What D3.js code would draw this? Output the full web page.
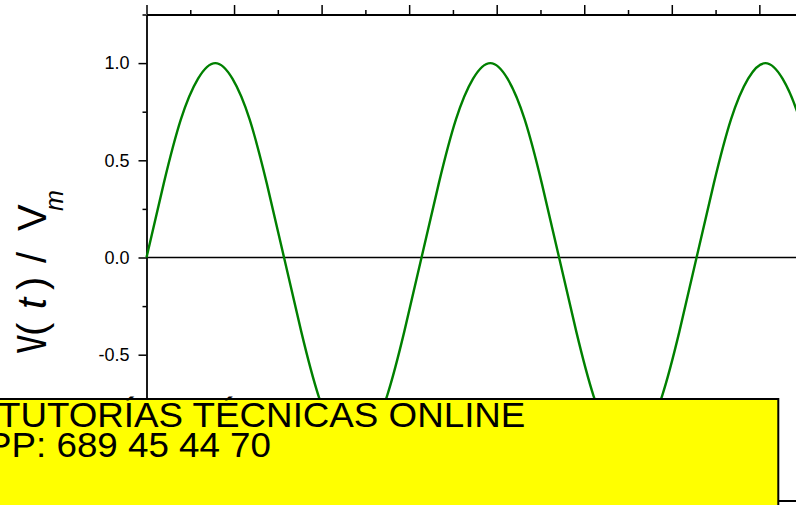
<!DOCTYPE html>
<html lang="es">
<head>
  <meta charset="UTF-8" />
  <title>v(t) / Vm</title>
  <script src="https://cdn.jsdelivr.net/npm/d3@7/dist/d3.min.js"></script>
  <style>
    body {
      margin: 0;
      background: #fff;
    }

    text {
      font-family: "Liberation Sans", Arial, sans-serif;
      fill: #000;
    }
  </style>
</head>

<body>
  <div class="chart"></div>
  <script>
    // angle (rad) and v(t)/Vm
    var tVals = [0, 0.393, 0.785, 1.178, 1.571, 1.963, 2.356, 2.749, 3.142, 3.534,
      3.927, 4.320, 4.712, 5.105, 5.498, 5.890, 6.283, 6.676, 7.069, 7.461,
      7.854, 8.247, 8.639, 9.032, 9.425, 9.817, 10.210, 10.603, 10.996, 11.388,
      11.781, 12.174, 12.566, 12.959, 13.352, 13.744, 14.137, 14.530, 14.923, 15.315,
      15.708
    ];
    var vVals = [0, 0.38, 0.71, 0.92, 1.0, 0.92, 0.71, 0.38, 0, -0.38,
      -0.71, -0.92, -1.0, -0.92, -0.71, -0.38, 0, 0.38, 0.71, 0.92,
      1.0, 0.92, 0.71, 0.38, 0, -0.38, -0.71, -0.92, -1.0, -0.92,
      -0.71, -0.38, 0, 0.38, 0.71, 0.92, 1.0, 0.92, 0.71, 0.38,
      0
    ];

    // -1.0 sits under the note box, so only these labels show
    var yMajor = [-0.5, 0.0, 0.5, 1.0];
    var yMinor = [-1.25, -0.75, -0.25, 0.25, 0.75, 1.25];
    var xMajor = [0, 2, 4, 6, 8, 10, 12, 14];
    var xMinor = [1, 3, 5, 7, 9, 11, 13, 15];

    var noteLines = ["TUTORÍAS TÉCNICAS ONLINE", "WHATSAPP: 689 45 44 70"];

    var w = 796,
      h = 505;

    var svg = d3.select(".chart").append("svg")
      .attr("width", w)
      .attr("height", h);

    var x = d3.scaleLinear()
      .domain([0, 15.5])
      .range([146.5, 146.5 + 15.5 * 43.775]);

    var y = d3.scaleLinear()
      .domain([-1.25, 1.25])
      .range([500.5, 14.5]);

    // zero line
    svg.append("line")
      .attr("x1", x(0))
      .attr("x2", x(15.5))
      .attr("y1", y(0))
      .attr("y2", y(0))
      .attr("stroke", "#000")
      .attr("stroke-width", 1.3);

    // left axis
    var yAxis = svg.append("g")
      .attr("transform", "translate(" + x(0) + ",0)")
      .call(d3.axisLeft(y)
        .tickValues(yMajor)
        .tickSize(8)
        .tickSizeOuter(0)
        .tickPadding(9)
        .tickFormat(function(d) {
          return d.toFixed(1);
        }));
    yAxis.selectAll("text")
      .attr("font-size", "18px")
      .attr("font-family", "'Liberation Sans', Arial, sans-serif")
      .attr("fill", "#000");

    svg.append("g")
      .attr("transform", "translate(" + x(0) + ",0)")
      .call(d3.axisLeft(y)
        .tickValues(yMinor)
        .tickSize(4)
        .tickSizeOuter(0)
        .tickFormat(""))
      .select(".domain").remove();

    // top axis
    svg.append("g")
      .attr("transform", "translate(0," + y(1.25) + ")")
      .call(d3.axisTop(x)
        .tickValues(xMajor)
        .tickSize(9.5)
        .tickSizeOuter(0)
        .tickFormat(""));

    svg.append("g")
      .attr("transform", "translate(0," + y(1.25) + ")")
      .call(d3.axisTop(x)
        .tickValues(xMinor)
        .tickSize(4.5)
        .tickSizeOuter(0)
        .tickFormat(""))
      .select(".domain").remove();

    // bottom axis
    svg.append("g")
      .attr("transform", "translate(0," + y(-1.25) + ")")
      .call(d3.axisBottom(x)
        .tickValues([])
        .tickSizeOuter(0));

    svg.selectAll(".domain")
      .attr("stroke", "#000")
      .attr("stroke-width", 1.8);
    svg.selectAll(".tick line")
      .attr("stroke", "#000")
      .attr("stroke-width", 1.5);

    // curve
    var line = d3.line()
      .x(function(d) {
        return x(d[0]);
      })
      .y(function(d) {
        return y(d[1]);
      })
      .curve(d3.curveNatural);

    svg.append("path")
      .datum(d3.zip(tVals, vVals))
      .attr("d", line)
      .attr("fill", "none")
      .attr("stroke", "#008000")
      .attr("stroke-width", 2.4);

    // y title
    var title = svg.append("g")
      .attr("transform", "translate(46,0) rotate(-90)");

    title.append("text")
      .attr("transform", "translate(-353,0) scale(0.64,1)")
      .attr("font-size", "56px")
      .text("v");

    var t2 = title.append("text")
      .attr("font-size", "40px");
    t2.append("tspan").attr("x", -336).text("(");
    t2.append("tspan").attr("x", -309).attr("font-style", "italic").text("t");
    t2.append("tspan").attr("x", -290).text(")");
    t2.append("tspan").attr("x", -263).text("/");
    t2.append("tspan").attr("x", -231).text("V");

    title.append("text")
      .attr("x", -211)
      .attr("y", 17)
      .attr("font-size", "25px")
      .attr("font-style", "italic")
      .text("m");

    // note box
    svg.append("rect")
      .attr("x", -10)
      .attr("y", 399)
      .attr("width", 788.3)
      .attr("height", 130)
      .attr("fill", "#ffff00")
      .attr("stroke", "#000")
      .attr("stroke-width", 2);

    svg.append("text")
      .attr("transform", "translate(-2,426.5) scale(1.05,1)")
      .attr("font-size", "35px")
      .text(noteLines[0]);

    svg.append("text")
      .attr("transform", "translate(271,456.5) scale(1.05,1)")
      .attr("font-size", "35px")
      .attr("text-anchor", "end")
      .text(noteLines[1]);
  </script>
</body>

</html>
